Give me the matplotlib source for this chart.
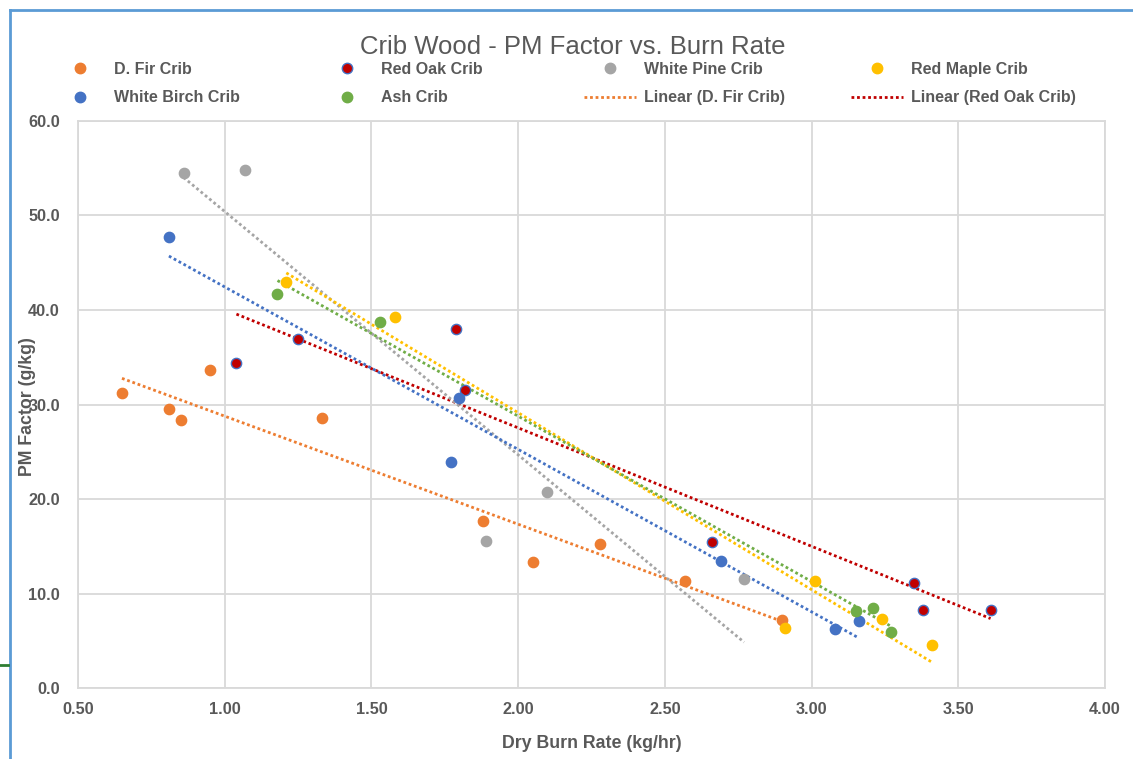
"""Crib wood PM factor vs. dry burn rate scatter with linear trendlines."""

import matplotlib
matplotlib.use("Agg")
import matplotlib.pyplot as plt
from matplotlib.lines import Line2D
import numpy as np

plt.rcParams["font.family"] = ["Liberation Sans", "DejaVu Sans"]

# data
fir_x = [0.65, 0.81, 0.85, 0.95, 1.33, 1.88, 2.05, 2.28, 2.57, 2.90]
fir_y = [31.2, 29.5, 28.4, 33.6, 28.6, 17.7, 13.3, 15.2, 11.3, 7.2]

oak_x = [1.04, 1.25, 1.79, 1.82, 2.66, 3.35, 3.38, 3.61]
oak_y = [34.4, 36.9, 38.0, 31.5, 15.4, 11.1, 8.3, 8.3]

pine_x = [0.86, 1.07, 1.89, 2.10, 2.77]
pine_y = [54.5, 54.8, 15.6, 20.7, 11.5]

maple_x = [1.21, 1.58, 2.91, 3.01, 3.24, 3.41]
maple_y = [43.0, 39.3, 6.4, 11.3, 7.3, 4.6]

birch_x = [0.81, 1.77, 1.80, 2.69, 3.08, 3.16]
birch_y = [47.7, 23.9, 30.7, 13.4, 6.2, 7.1]

ash_x = [1.18, 1.53, 3.15, 3.21, 3.27]
ash_y = [41.7, 38.7, 8.1, 8.5, 5.9]

series = [
    ("D. Fir Crib", fir_x, fir_y, "#ED7D31", "#ED7D31"),
    ("Red Oak Crib", oak_x, oak_y, "#C00000", "#4472C4"),
    ("White Pine Crib", pine_x, pine_y, "#A5A5A5", "#A5A5A5"),
    ("Red Maple Crib", maple_x, maple_y, "#FFC000", "#FFC000"),
    ("White Birch Crib", birch_x, birch_y, "#4472C4", "#4472C4"),
    ("Ash Crib", ash_x, ash_y, "#70AD47", "#70AD47"),
]

x_ticks = [0.5, 1.0, 1.5, 2.0, 2.5, 3.0, 3.5, 4.0]
y_ticks = [0, 10, 20, 30, 40, 50, 60]

grey = "#595959"
grid_c = "#D9D9D9"

fig = plt.figure(figsize=(11.33, 7.59), dpi=100)
ax = fig.add_axes([0.0688, 0.0935, 0.9065, 0.7471])

dot = (0, (1, 1))
handles = {}
for name, xs, ys, face, edge in series:
    xs = np.asarray(xs)
    ys = np.asarray(ys)
    ax.scatter(xs, ys, s=55, color=face, edgecolors=edge, linewidths=1.0, zorder=4)
    handles[name] = Line2D([], [], linestyle="none", marker="o", markersize=7.5,
                           markerfacecolor=face, markeredgecolor=edge)
    # linear trendline over the data range
    k, b = np.polyfit(xs, ys, 1)
    tx = np.array([xs.min(), xs.max()])
    ax.plot(tx, k * tx + b, color=face, linestyle=dot, linewidth=2.0, zorder=3)
    handles["Linear (%s)" % name] = Line2D([], [], color=face, linestyle=dot,
                                           linewidth=2.0)

ax.set_xlim(0.5, 4.0)
ax.set_ylim(0, 60)
ax.set_xticks(x_ticks)
ax.set_xticklabels(["%.2f" % v for v in x_ticks])
ax.set_yticks(y_ticks)
ax.set_yticklabels(["%.1f" % v for v in y_ticks])
ax.grid(True, color=grid_c, linewidth=1.3)
ax.set_axisbelow(True)
for sp in ax.spines.values():
    sp.set_color(grid_c)
    sp.set_linewidth(1.3)
ax.tick_params(length=0, labelsize=11.7, labelcolor=grey)
ax.tick_params(axis="x", pad=10)
ax.tick_params(axis="y", pad=13)
for lbl in ax.get_xticklabels() + ax.get_yticklabels():
    lbl.set_fontweight("bold")

ax.set_xlabel("Dry Burn Rate (kg/hr)", fontsize=12.8, fontweight="bold", color=grey)
ax.set_ylabel("PM Factor (g/kg)", fontsize=12.8, fontweight="bold", color=grey)
ax.xaxis.set_label_coords(0.5, -0.082)
ax.yaxis.set_label_coords(-0.041, 0.497)

fig.text(0.5053, 1 - 54 / 759, "Crib Wood - PM Factor vs. Burn Rate", ha="center",
         va="baseline", fontsize=18.5, color=grey)

# legend in four columns, two rows
columns = [
    (0.0445, ["D. Fir Crib", "White Birch Crib"]),
    (0.2805, ["Red Oak Crib", "Ash Crib"]),
    (0.5126, ["White Pine Crib", "Linear (D. Fir Crib)"]),
    (0.7483, ["Red Maple Crib", "Linear (Red Oak Crib)"]),
]
for x0, names in columns:
    leg = fig.legend([handles[n] for n in names], names, loc="upper left",
                     bbox_to_anchor=(x0, 0.923), frameon=False, fontsize=11.5,
                     labelcolor=grey, handlelength=3.25, handletextpad=0.53,
                     labelspacing=0.85, borderpad=0.2, borderaxespad=0.0)
    for t in leg.get_texts():
        t.set_fontweight("bold")

# frame of the selected chart in the screenshot
fig.add_artist(Line2D([10 / 1133, 1.0], [1 - 10 / 759, 1 - 10 / 759],
                      color="#5B9BD5", linewidth=2.0))
fig.add_artist(Line2D([10 / 1133, 10 / 1133], [0.0, 1 - 10 / 759],
                      color="#5B9BD5", linewidth=2.0))
fig.add_artist(Line2D([0.0, 8 / 1133], [1 - 665 / 759, 1 - 665 / 759],
                      color="#2E7D32", linewidth=2.0))

fig.savefig("out.png", dpi=100)
plt.close(fig)
